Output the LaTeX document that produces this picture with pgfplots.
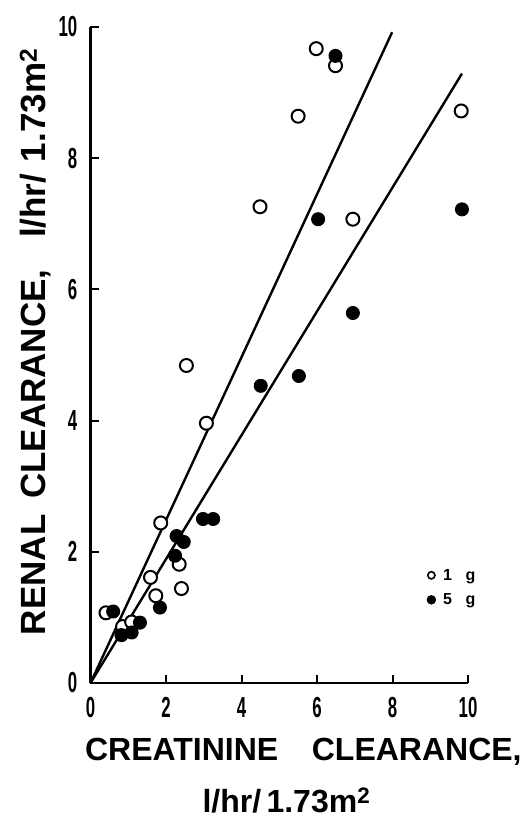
\documentclass[border=0pt]{standalone}
\usepackage{graphicx}
\usepackage{fontspec}
\setmainfont{Liberation Sans}
\usepackage{pgfplots}
\pgfplotsset{compat=1.18}

% Open circles: 1 g dose
\pgfplotstableread{
x y
0.41 1.07
0.85 0.86
1.09 0.93
1.59 1.61
1.73 1.33
1.86 2.44
2.35 1.81
2.41 1.44
2.54 4.84
3.07 3.96
4.49 7.26
5.50 8.64
5.98 9.67
6.49 9.41
6.95 7.07
9.82 8.72
}\onegram

% Filled circles: 5 g dose
\pgfplotstableread{
x y
0.60 1.09
0.82 0.73
1.09 0.77
1.31 0.92
1.84 1.15
2.24 1.94
2.28 2.24
2.47 2.15
2.98 2.50
3.25 2.50
4.51 4.53
5.52 4.68
6.03 7.07
6.49 9.56
6.95 5.64
9.84 7.22
}\fivegram

\newcommand{\ticktext}[1]{\fontsize{29}{29}\selectfont\bfseries\scalebox{0.58}[1]{#1}}

\begin{document}
\begin{tikzpicture}
\begin{axis}[
  scale only axis,
  width=377.5pt, height=656pt,
  xmin=0, xmax=10, ymin=0, ymax=10,
  axis x line=bottom, axis y line=left,
  axis line style={line width=2.4pt, -},
  xtick={0,2,...,10}, ytick={0,2,...,10},
  tick style={line width=2pt, black},
  major tick length=8pt,
  tick align=inside,
  /pgf/number format/assume math mode=true,
  xticklabel={\ticktext{\pgfmathprintnumber{\tick}}},
  yticklabel={\ticktext{\pgfmathprintnumber{\tick}}},
  xticklabel style={inner sep=0pt, yshift=-14pt},
  yticklabel style={inner sep=0pt, xshift=-13pt},
  xlabel={CREATININE\hspace{1.05em}CLEARANCE,\\\hspace*{-34pt}l/hr/\,1.73m\textsuperscript{2}},
  xlabel style={at={(rel axis cs:0.564,0)}, anchor=north, yshift=-55pt,
    inner sep=0pt, align=center, font=\fontsize{32}{52}\selectfont\bfseries},
  ylabel={RENAL\hspace{0.45em}CLEARANCE,\hspace{0.9em}l/hr/\,\,1.73m\textsuperscript{2}},
  ylabel style={at={([xshift=-55pt]rel axis cs:0,0.52)}, anchor=center,
    inner sep=0pt, font=\fontsize{35}{35}\selectfont\bfseries},
  clip=false,
  legend style={at={(axis cs:8.9,1.74)}, anchor=north west, draw=none, fill=none,
    font=\fontsize{16}{16}\selectfont\bfseries, row sep=12pt,
    nodes={inner sep=0pt},
    legend cell align=left, inner sep=0pt},
]
\addplot[only marks, mark=*, mark size=6.5pt, mark options={fill=white, draw=black, line width=2pt},
  legend image code/.code={\filldraw[draw=black, fill=white, line width=1.6pt] (0pt,0pt) circle (3.6pt);}]
  table {\onegram};
\addlegendentry{\hspace{7pt}1\hspace{0.85em}g}
\addplot[only marks, mark=*, mark size=6.5pt, mark options={fill=black, draw=black, line width=1pt},
  legend image code/.code={\filldraw[draw=black, fill=black, line width=1pt] (0pt,0pt) circle (4.2pt);}]
  table {\fivegram};
\addlegendentry{\hspace{7pt}5\hspace{0.85em}g}
\addplot[black, line width=2.4pt, forget plot] coordinates {(0,0) (7.99,9.92)};
\addplot[black, line width=2.4pt, forget plot] coordinates {(0,0) (9.84,9.29)};
\end{axis}
\useasboundingbox (-90.5pt,-136pt) rectangle (433.5pt,683pt);
\end{tikzpicture}
\end{document}
